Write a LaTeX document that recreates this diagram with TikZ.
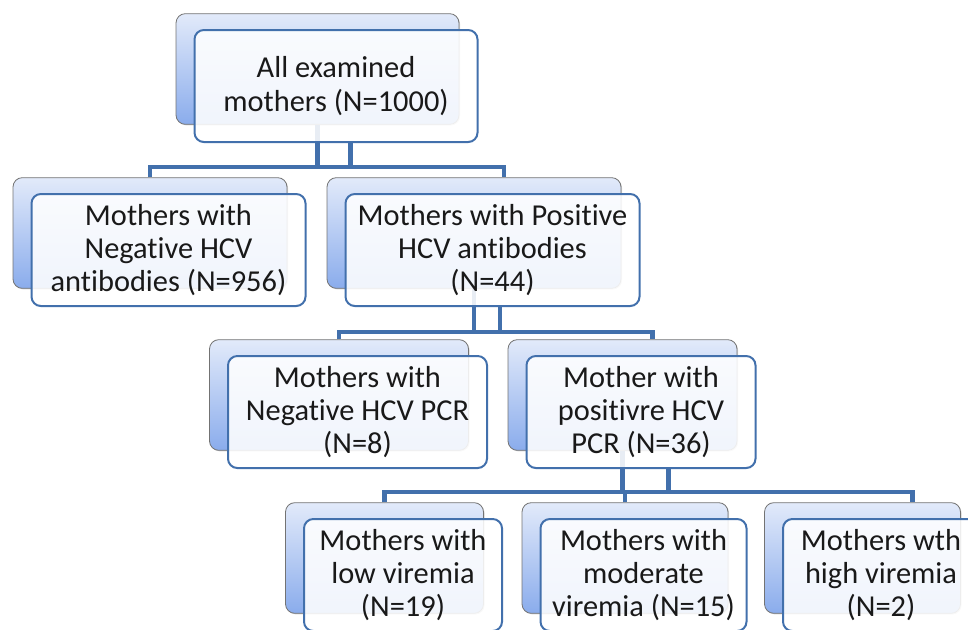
\documentclass[tikz,border=0pt]{standalone}
\usepackage{fontspec}
\setsansfont[Ligatures=NoCommon]{Carlito}
\usetikzlibrary{positioning,calc,shadows}

\definecolor{linkblue}{RGB}{66,112,172}
\definecolor{cardtop}{RGB}{226,234,250}
\definecolor{cardbot}{RGB}{138,172,236}

\pgfdeclarelayer{cards}
\pgfdeclarelayer{links}
\pgfsetlayers{cards,links,main}

\begin{document}
\begin{tikzpicture}[x=0.75pt,y=-0.75pt,font=\sffamily\fontsize{22.8}{24.9}\selectfont,
	back card/.style={rounded corners=7pt,draw=black!55,line width=0.6pt,top color=cardtop,bottom color=cardbot,
		drop shadow={shadow xshift=0.8pt,shadow yshift=-0.8pt,opacity=0.35},minimum height=83pt,inner sep=0pt},
	front card/.style={rounded corners=7pt,draw=linkblue,line width=1.5pt,fill=white,fill opacity=0.88,
		text opacity=1,text=black!90,minimum height=84pt,align=center,inner sep=0pt},
	link/.style={draw=linkblue,line width=3.4pt}]
		\clip (0,0) rectangle (968,629);
		% every box is a card in the back and a card in front of it
		\foreach \N/\X/\Y/\W/\T in
		{top/317.5/69/283/{All examined\\mothers (N=1000)},
			nab/150/233/274/{Mothers with\\Negative HCV\\antibodies (N=956)},
			pab/474/233/294/{Mothers with Positive\\HCV antibodies\\(N=44)},
			npcr/339/395/259/{Mothers with\\Negative HCV PCR\\(N=8)},
			ppcr/622.5/395/229/{Mother with\\positivre HCV\\PCR (N=36)},
			low/384.5/558/198/{Mothers with\\low viremia\\(N=19)},
			mod/625/558/206/{Mothers with\\moderate\\viremia (N=15)},
			high/862.5/558/196/{Mothers wth\\high viremia\\(N=2)}}
		{\begin{pgfonlayer}{cards}
				\node[back card,minimum width=\W*0.75pt] (B-\N) at (\X,\Y) {};
			\end{pgfonlayer}
			\node[front card,minimum width=\W*0.75pt] (F-\N) at ($(B-\N)+(18.5,17)$) {\T};}
		\coordinate (bar-1) at (0,167);
		\coordinate (bar-2) at (0,332);
		\coordinate (bar-3) at (0,492);
		\begin{pgfonlayer}{links}
			\draw[link] (B-top.south) -- (B-top.south |- bar-1);
			\draw[link] ($(F-top.south)+(14.5,0)$) coordinate (d) -- (d |- bar-1);
			\draw[link] (B-nab.north) |- ($(B-pab.north |- bar-1)+(30,0)$) coordinate (d) -- (d |- B-pab.north);
			\draw[link] (B-pab.south) -- (B-pab.south |- bar-2);
			\draw[link] ($(F-pab.south)+(7.5,0)$) coordinate (d) -- (d |- bar-2);
			\draw[link] (B-npcr.north) |- ($(B-ppcr.north |- bar-2)+(30,0)$) coordinate (d) -- (d |- B-ppcr.north);
			\draw[link] (B-ppcr.south) -- (B-ppcr.south |- bar-3);
			\draw[link] ($(F-ppcr.south)+(27.5,0)$) coordinate (d) -- (d |- bar-3);
			\draw[link] (B-low.north) |- ($(B-high.north |- bar-3)+(50,0)$) coordinate (d) -- (d |- B-high.north);
			\draw[link] (B-mod.north) -- (B-mod.north |- bar-3);
		\end{pgfonlayer}
\end{tikzpicture}
\end{document}
